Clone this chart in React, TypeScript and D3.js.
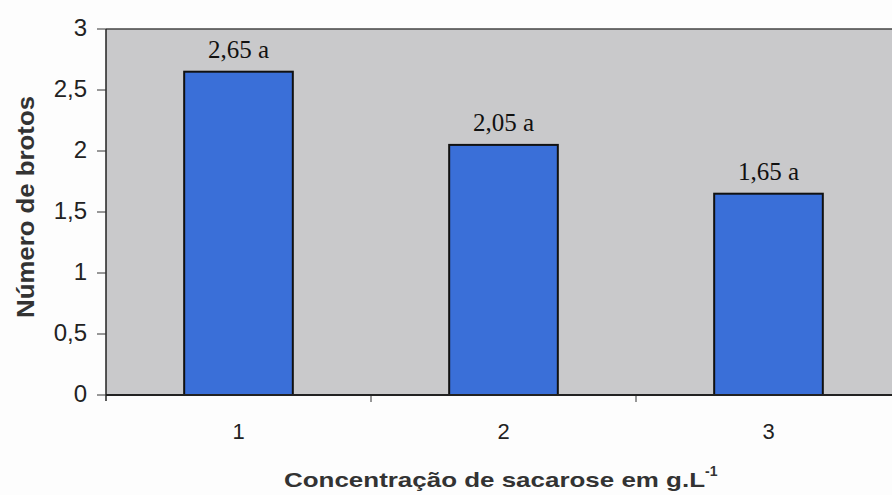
import React from "react";
import * as d3 from "d3";

const categories = ["1", "2", "3"];
const values = [2.65, 2.05, 1.65];
const valueLabels = ["2,65 a", "2,05 a", "1,65 a"];
const yTicks = [0, 0.5, 1, 1.5, 2, 2.5, 3];

const W = 892;
const H = 495;
const plot = { left: 106, right: 901, top: 29, bottom: 395 };
const sans = "'Liberation Sans', Arial, sans-serif";
const serif = "'Liberation Serif', 'Times New Roman', serif";

export default function App() {
  const x = d3
    .scaleBand<string>()
    .domain(categories)
    .range([plot.left, plot.right])
    .paddingInner(0.59)
    .paddingOuter(0.295);
  const band = d3.scaleBand<string>().domain(categories).range([plot.left, plot.right]);
  const y = d3.scaleLinear().domain([0, 3]).range([plot.bottom, plot.top]);
  const fmt = (v: number) => String(v).replace(".", ",");

  return (
    <svg
      width={W}
      height={H}
      style={{ position: "absolute", left: 0, top: 0, background: "#fdfdfd" }}
    >
      <rect
        x={plot.left}
        y={plot.top}
        width={plot.right - plot.left}
        height={plot.bottom - plot.top}
        fill="#c9c9cb"
      />
      <line x1={plot.left} x2={W} y1={plot.top} y2={plot.top} stroke="#444" strokeWidth={1.5} />
      {categories.map((c, i) => (
        <g key={c}>
          <rect
            x={x(c)}
            y={y(values[i])}
            width={x.bandwidth()}
            height={plot.bottom - y(values[i])}
            fill="#3a6fd8"
            stroke="#111"
            strokeWidth={2}
          />
          <text
            x={(x(c) as number) + x.bandwidth() / 2}
            y={y(values[i]) - 14}
            textAnchor="middle"
            fontFamily={serif}
            fontSize={25}
            fill="#111"
          >
            {valueLabels[i]}
          </text>
          <text
            x={(band(c) as number) + band.bandwidth() / 2}
            y={439}
            textAnchor="middle"
            fontFamily={sans}
            fontSize={22}
            fill="#222"
          >
            {c}
          </text>
        </g>
      ))}
      {categories.slice(1).map((c) => (
        <line
          key={c}
          x1={band(c)}
          x2={band(c)}
          y1={plot.bottom}
          y2={plot.bottom + 7}
          stroke="#333"
          strokeWidth={1}
        />
      ))}
      <line x1={plot.left} x2={W} y1={plot.bottom} y2={plot.bottom} stroke="#222" strokeWidth={2} />
      <line x1={plot.left} x2={plot.left} y1={plot.top} y2={plot.bottom + 6} stroke="#222" strokeWidth={1.5} />
      {yTicks.map((t) => (
        <g key={t}>
          <line x1={plot.left - 9} x2={plot.left} y1={y(t)} y2={y(t)} stroke="#333" strokeWidth={1} />
          <text
            x={87}
            y={y(t) + 7}
            textAnchor="end"
            fontFamily={sans}
            fontSize={24}
            fill="#222"
          >
            {fmt(t)}
          </text>
        </g>
      ))}
      <text
        transform={`translate(34, 207) rotate(-90)`}
        textAnchor="middle"
        fontFamily={sans}
        fontWeight="bold"
        fontSize={24}
        fill="#333"
        textLength={222}
        lengthAdjust="spacingAndGlyphs"
      >
        Número de brotos
      </text>
      <text
        x={284}
        y={487}
        fontFamily={sans}
        fontWeight="bold"
        fontSize={21}
        fill="#333"
      >
        <tspan textLength={421} lengthAdjust="spacingAndGlyphs">
          Concentração de sacarose em g.L
        </tspan>
        <tspan dy={-11} fontSize={14}>-1</tspan>
      </text>
    </svg>
  );
}
